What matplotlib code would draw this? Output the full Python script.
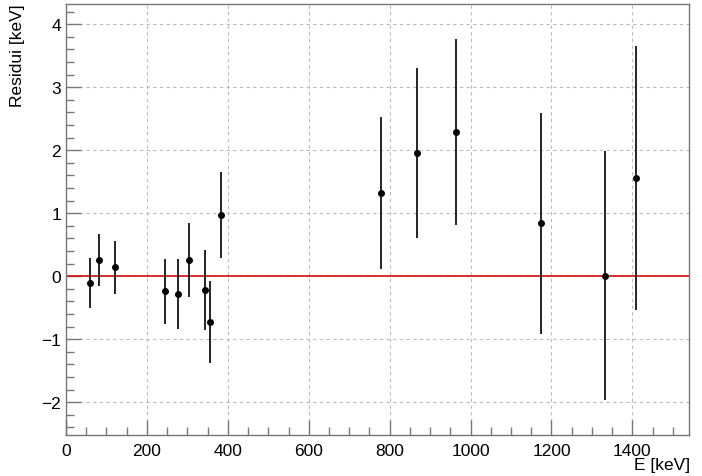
import matplotlib.pyplot as plt
import numpy as np
from matplotlib.ticker import MultipleLocator

plt.rcParams['font.family'] = ['Liberation Sans', 'DejaVu Sans']

# energies of the calibration lines [keV]
energy = [59.5, 81.0, 121.8, 244.7, 276.4, 302.9, 344.3, 356.0, 383.8,
          778.9, 867.4, 964.1, 1173.2, 1332.5, 1408.0]
# residuals and their errors [keV]
resid = [-0.11, 0.26, 0.14, -0.24, -0.28, 0.26, -0.22, -0.73, 0.97,
         1.32, 1.95, 2.29, 0.84, 0.01, 1.56]
resid_err = [0.40, 0.41, 0.42, 0.52, 0.56, 0.59, 0.63, 0.65, 0.68,
             1.21, 1.35, 1.47, 1.75, 1.98, 2.10]

fig = plt.figure(figsize=(7.02, 4.77), dpi=100)
ax = fig.add_axes([66/702, 1 - 436/477, (689-66)/702, (436-5)/477])

ax.errorbar(energy, resid, yerr=resid_err, fmt='o', color='black',
            markersize=4, elinewidth=1.2, capsize=0, zorder=3)
ax.axhline(0, color='#d01010', linewidth=1.2, zorder=2)

ax.set_xlim(0, 1540)
ax.set_ylim(-2.52, 4.32)

ax.xaxis.set_major_locator(MultipleLocator(200))
ax.xaxis.set_minor_locator(MultipleLocator(50))
ax.yaxis.set_major_locator(MultipleLocator(1))
ax.yaxis.set_minor_locator(MultipleLocator(0.2))

ax.grid(True, which='major', linestyle=(0, (3, 3)), color='#bbbbbb', linewidth=0.8)
ax.set_axisbelow(True)

frame_col = '#777777'
for s in ax.spines.values():
    s.set_color(frame_col)
    s.set_linewidth(1.0)
ax.tick_params(which='both', direction='in', color=frame_col, labelsize=12.5,
               top=False, right=False)
ax.tick_params(which='major', length=11, width=1.0)
ax.tick_params(which='minor', length=6, width=1.0)
ax.tick_params(axis='x', pad=6)

fig.text(690/702, 1 - 458/477, 'E [keV]', ha='right', va='top', fontsize=12.5)
fig.text(10/702, 1 - 4/477, 'Residui [keV]', ha='left', va='top', rotation=90,
         fontsize=12.5)

fig.savefig('out.png', dpi=100)
